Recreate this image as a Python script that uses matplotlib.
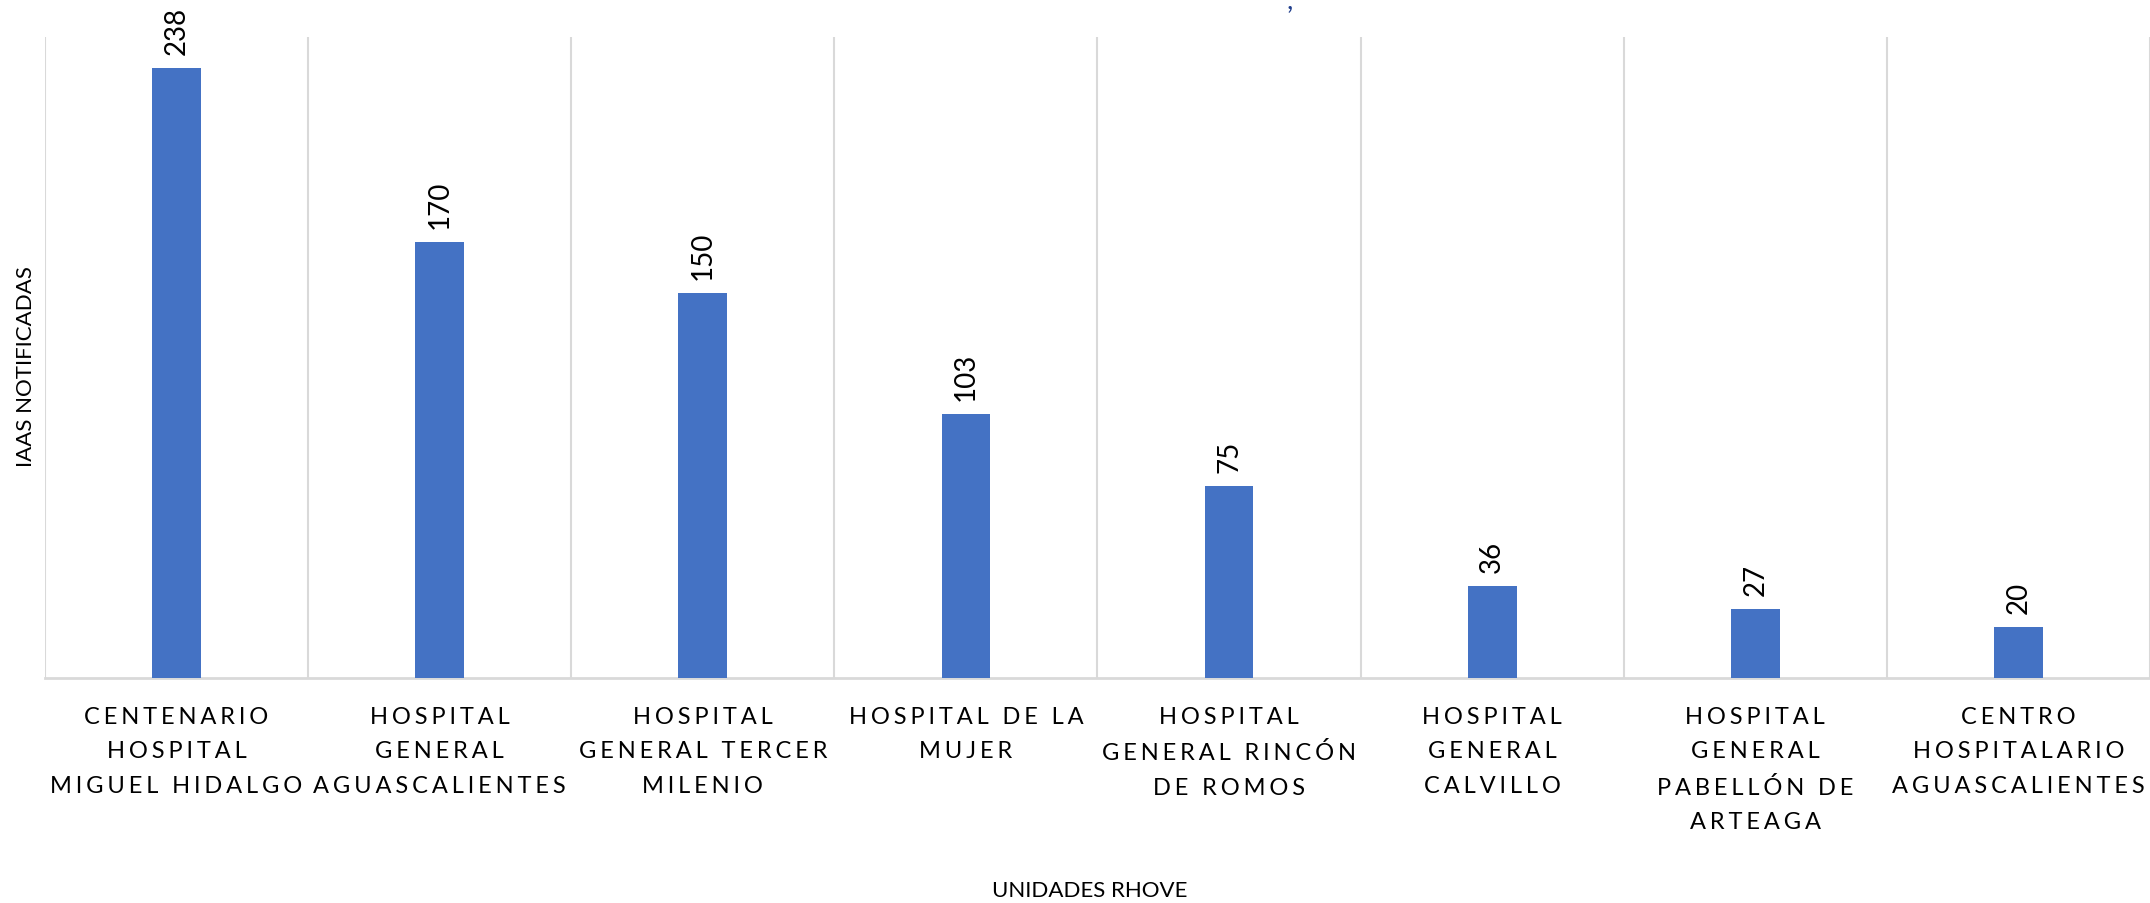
import matplotlib
matplotlib.use("Agg")
import matplotlib.pyplot as plt

categories = [
    "CENTENARIO\nHOSPITAL\nMIGUEL HIDALGO",
    "HOSPITAL\nGENERAL\nAGUASCALIENTES",
    "HOSPITAL\nGENERAL TERCER\nMILENIO",
    "HOSPITAL DE LA\nMUJER",
    "HOSPITAL\nGENERAL RINCÓN\nDE ROMOS",
    "HOSPITAL\nGENERAL\nCALVILLO",
    "HOSPITAL\nGENERAL\nPABELLÓN DE\nARTEAGA",
    "CENTRO\nHOSPITALARIO\nAGUASCALIENTES",
]
iaas = [238, 170, 150, 103, 75, 36, 27, 20]

BAR_COLOR = "#4472C4"
GRID_COLOR = "#D9D9D9"
FONT = ["Lato", "DejaVu Sans"]


def spaced(text: str) -> str:
    # Excel-style letter spacing: six-per-em space between letters
    return "\n".join("\u2006".join(line) for line in text.split("\n"))


fig = plt.figure(figsize=(21.5, 9.04), dpi=100)
ax = fig.add_axes([0.0209, 0.249, 0.9791, 0.709])

x = list(range(len(categories)))
ax.bar(x, iaas, width=0.185, color=BAR_COLOR, zorder=3)

for xi, v in zip(x, iaas):
    ax.annotate(str(v), (xi, v), xytext=(0, 10), textcoords="offset points",
                rotation=90, ha="center", va="bottom", fontsize=20,
                family=FONT, color="#000000")

ax.set_xlim(-0.5, len(categories) - 0.5)
ax.set_ylim(0, 250)
ax.set_yticks([])

for b in [i - 0.5 for i in range(len(categories) + 1)]:
    ax.axvline(b, color=GRID_COLOR, linewidth=1.5, zorder=1)

for side in ["top", "right", "left"]:
    ax.spines[side].set_visible(False)
ax.spines["bottom"].set_color(GRID_COLOR)
ax.spines["bottom"].set_linewidth(2)

ax.set_xticks(x)
ax.set_xticklabels([spaced(c) for c in categories], family=FONT,
                   fontsize=17, linespacing=1.8)
ax.tick_params(axis="x", length=0, pad=20)

fig.text(1090 / 2150, 1 - 891 / 904, "UNIDADES RHOVE", fontsize=16, family=FONT,
         ha="center", va="center")
fig.text(26 / 2150, 1 - 367 / 904, "IAAS NOTIFICADAS", fontsize=16, family=FONT,
         rotation=90, ha="center", va="center")

# clipped chart title fragment at the top edge
fig.text(1290 / 2150, 1.0, ",", color="#1F3D8C", fontsize=20, ha="center",
         va="center", family=FONT)

fig.savefig("out.png", dpi=100)
